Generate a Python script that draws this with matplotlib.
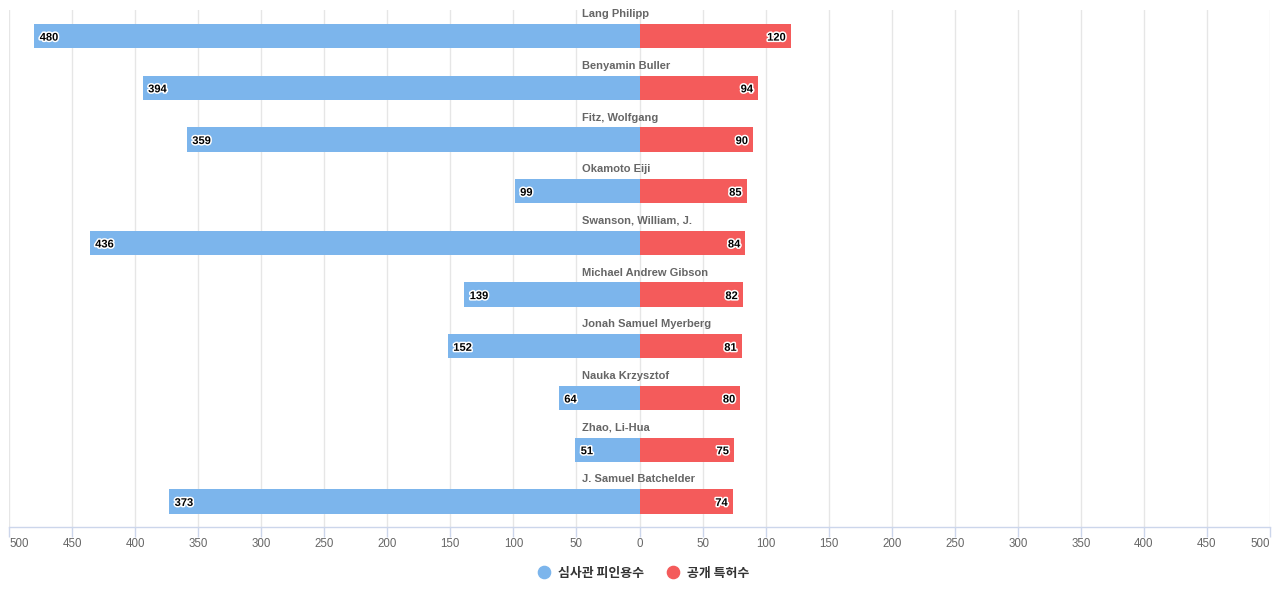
import matplotlib
matplotlib.use("Agg")
import matplotlib.pyplot as plt
import matplotlib.patheffects as pe
from matplotlib.ticker import FixedLocator, FuncFormatter
from matplotlib.lines import Line2D

plt.rcParams['font.family'] = ['Liberation Sans', 'Noto Sans CJK KR', 'DejaVu Sans']

names = ["Lang Philipp", "Benyamin Buller", "Fitz, Wolfgang", "Okamoto Eiji",
         "Swanson, William, J.", "Michael Andrew Gibson", "Jonah Samuel Myerberg",
         "Nauka Krzysztof", "Zhao, Li-Hua", "J. Samuel Batchelder"]
cited = [480, 394, 359, 99, 436, 139, 152, 64, 51, 373]
patents = [120, 94, 90, 85, 84, 82, 81, 80, 75, 74]
series_names = ["심사관 피인용수", "공개 특허수"]
ticks = [-500, -450, -400, -350, -300, -250, -200, -150, -100, -50,
         0, 50, 100, 150, 200, 250, 300, 350, 400, 450, 500]

BLUE = "#7cb5ec"
RED = "#f45b5b"

fig = plt.figure(figsize=(12.8, 6.0), dpi=100)
ax = fig.add_axes([9/1280, 1 - 527/600, 1261/1280, 517/600])

y = list(range(len(names)))
ax.barh(y, [-v for v in cited], height=0.47, color=BLUE, zorder=3)
ax.barh(y, patents, height=0.47, color=RED, zorder=3)

ax.set_xlim(-500, 500)
ax.set_ylim(len(names) - 0.5 - 0.005, -0.5 - 0.005)

ax.xaxis.set_major_locator(FixedLocator(ticks))
ax.xaxis.set_major_formatter(FuncFormatter(lambda v, p: f"{abs(int(round(v)))}"))
ax.set_yticks([])
for s in ["top", "right", "left"]:
    ax.spines[s].set_visible(False)
ax.spines["bottom"].set_color("#ccd6eb")
ax.spines["bottom"].set_linewidth(1)
ax.tick_params(axis="x", length=7, width=1, color="#ccd6eb", labelsize=8.3,
               labelcolor="#666666", pad=1.2)
ax.grid(axis="x", color="#e6e6e6", linewidth=1, zorder=0)
ax.set_axisbelow(True)

fig.canvas.draw()
tl = ax.get_xticklabels()
tl[0].set_horizontalalignment("left")
tl[-1].set_horizontalalignment("right")

stroke = [pe.withStroke(linewidth=2.2, foreground="white")]
px = 0.72
for i, n in enumerate(names):
    ax.annotate(n, xy=(0, i), xytext=(-58 * px, 22 * px), textcoords="offset points",
                ha="left", va="center", fontsize=8, fontweight="bold", color="#666666",
                zorder=5)
    ax.annotate(str(cited[i]), xy=(-cited[i], i), xytext=(5.5 * px, -1.5 * px),
                textcoords="offset points", ha="left", va="center", fontsize=8,
                fontweight="bold", color="black", path_effects=stroke, zorder=6)
    ax.annotate(str(patents[i]), xy=(patents[i], i), xytext=(-5 * px, -1.5 * px),
                textcoords="offset points", ha="right", va="center", fontsize=8,
                fontweight="bold", color="black", path_effects=stroke, zorder=6)

handles = [Line2D([], [], marker="o", linestyle="none", markersize=8.8,
                  markerfacecolor=c, markeredgecolor=c) for c in (BLUE, RED)]
fig.legend(handles, series_names, loc="center", bbox_to_anchor=(0.5, 1 - 573/600),
           ncol=2, frameon=False, handletextpad=0.1, columnspacing=1.2,
           prop={"family": ["Noto Sans CJK KR", "DejaVu Sans"], "weight": "bold", "size": 9.3},
           labelcolor="#333333")

fig.savefig("out.png", dpi=100)
